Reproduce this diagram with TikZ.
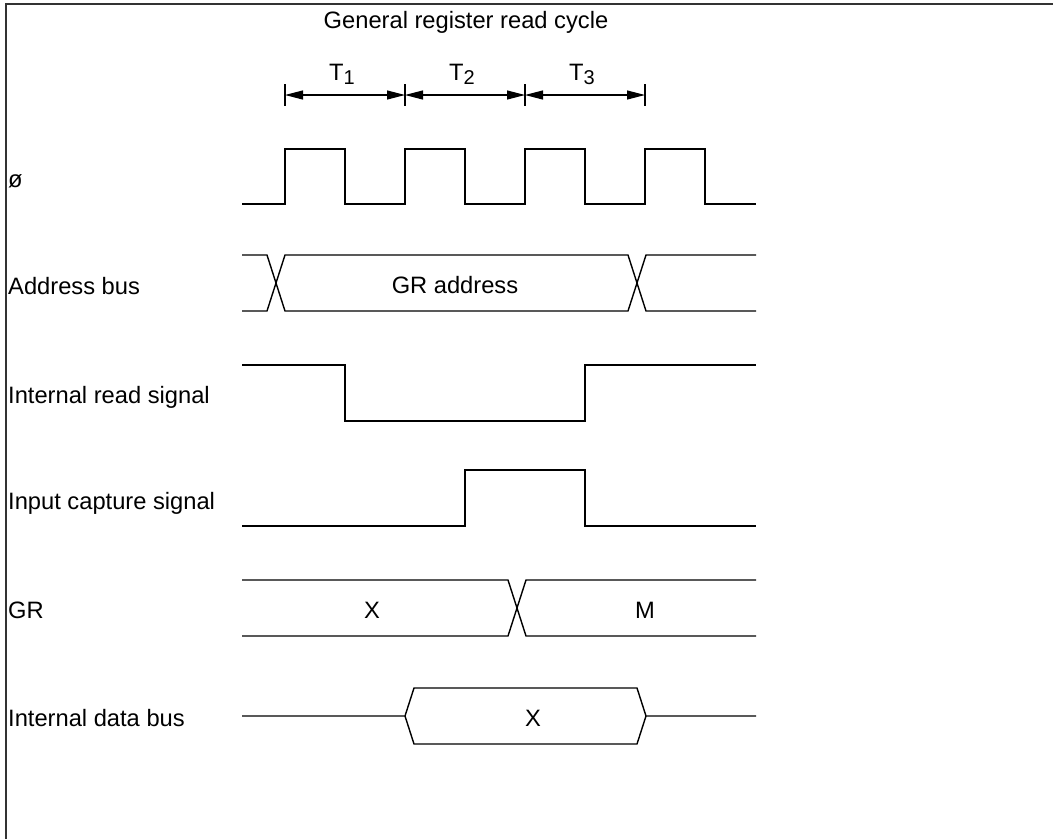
\documentclass[tikz,border=0pt]{standalone}
\usepackage{fontspec}
\setmainfont{Liberation Sans}
\usetikzlibrary{arrows.meta,positioning,calc}

\begin{document}
\begin{tikzpicture}[
  x=1pt, y=-1pt,
  every node/.style={font=\fontsize{23.7}{28}\selectfont, inner sep=0pt},
  signame/.style={anchor=base west},
  value/.style={anchor=base},
  wave/.style={draw, line width=1.4pt, line join=miter},
  period/.style={draw, line width=1.1pt, {Triangle[length=18pt,width=9pt]}-{Triangle[length=18pt,width=9pt]}}
]
\useasboundingbox (0,0) rectangle (1053,839);
% frame
\draw[line width=2pt, black!80] (1053,4) -- (6,4) -- (6,839);

\node[value] (title) at (466,28) {General register read cycle};

% cycle marks
\foreach \i/\x in {0/285,1/405,2/525,3/645} {
  \coordinate (m\i) at (\x,95);
  \draw[line width=1.3pt] (m\i) ++(0,-11) -- ++(0,22);
}
\foreach \i/\j/\n in {0/1/1,1/2/2,2/3/3} {
  \draw[period] (m\i) -- (m\j);
  \node[value] (t\n) at ($(m\i)!0.5!(m\j)+(-3,-15)$) {T\raisebox{-4pt}{\fontsize{20}{22}\selectfont\n}};
}

% signal names
\node[signame] (phi) at (8,187) {ø};
\node[signame] (addr) at (8,294) {Address bus};
\node[signame] (rd) at (8,403) {Internal read signal};
\node[signame] (icap) at (8,509) {Input capture signal};
\node[signame] (gr) at (8,618) {GR};
\node[signame] (dbus) at (8,726) {Internal data bus};

% clock
\draw[wave] (242,204) \foreach \x in {285,405,525,645} {
  -- (\x,204) -- (\x,149) -- (\x+60,149) -- (\x+60,204) } -- (756,204);

% address bus
\draw[wave] (242,255) -- (267,255) -- (285,311) -- (628,311) -- (646,255) -- (756,255);
\draw[wave] (242,311) -- (267,311) -- (285,255) -- (628,255) -- (646,311) -- (756,311);
\node[value] (graddr) at (455,293) {GR address};

% internal read signal
\draw[wave] (242,365) -- (345,365) -- (345,421) -- (585,421) -- (585,365) -- (756,365);

% input capture signal
\draw[wave] (242,526) -- (465,526) -- (465,470) -- (585,470) -- (585,526) -- (756,526);

% GR
\draw[wave] (242,580) -- (508,580) -- (526,636) -- (756,636);
\draw[wave] (242,636) -- (508,636) -- (526,580) -- (756,580);
\node[value] (grx) at (372,618) {X};
\node[value] (grm) at (645,618) {M};

% internal data bus
\draw[wave] (242,716) -- (405,716) -- (414,688) -- (637,688) -- (646,716) -- (756,716);
\draw[wave] (405,716) -- (414,744) -- (637,744) -- (646,716);
\node[value] (dbx) at (533,726) {X};
\end{tikzpicture}
\end{document}
